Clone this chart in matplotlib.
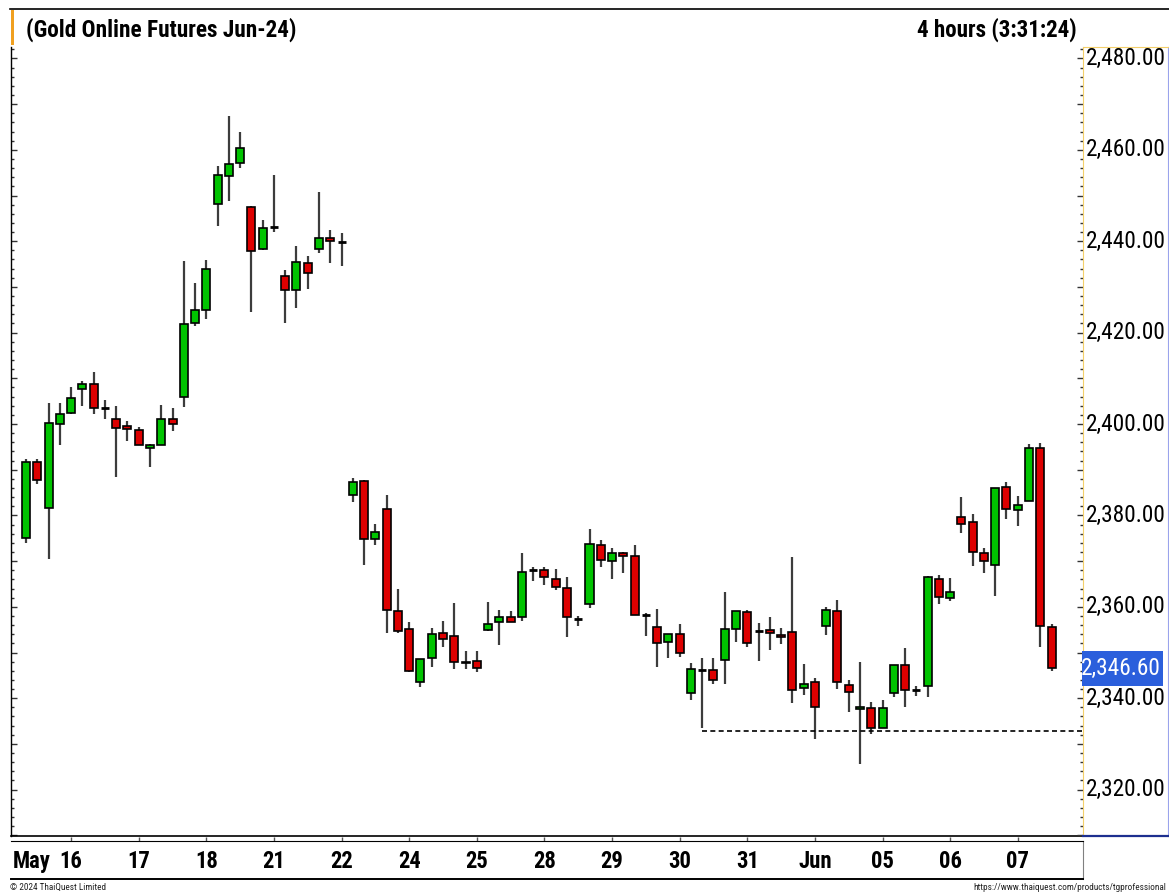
import matplotlib
matplotlib.use('Agg')
import matplotlib.pyplot as plt
import matplotlib.transforms as mtrans
from matplotlib import font_manager as fm
from matplotlib.font_manager import FontProperties
from matplotlib.patches import Rectangle
from matplotlib.lines import Line2D
from matplotlib.ticker import MultipleLocator

# ---------------- data ----------------
opens = [2375.0, 2391.6, 2381.6, 2399.9, 2402.3, 2407.7, 2408.7, 2403.5, 2401.2, 2399.5,
         2398.7, 2394.7, 2395.5, 2401.0, 2405.8, 2422.2, 2424.9, 2448.1, 2454.3, 2457.2,
         2447.5, 2438.4, 2443.0, 2432.4, 2429.3, 2435.2, 2438.2, 2440.6, 2439.9, 2384.5,
         2387.5, 2374.8, 2381.3, 2359.1, 2355.2, 2343.5, 2348.7, 2354.2, 2353.6, 2347.6,
         2348.1, 2355.0, 2356.6, 2357.7, 2357.7, 2368.1, 2368.1, 2366.1, 2364.2, 2357.3,
         2360.7, 2373.5, 2370.0, 2371.8, 2371.1, 2358.3, 2355.5, 2352.2, 2354.0, 2341.1,
         2346.2, 2346.1, 2348.3, 2355.2, 2358.8, 2354.8, 2354.9, 2353.9, 2354.4, 2342.2,
         2343.5, 2355.9, 2359.0, 2342.8, 2337.7, 2337.8, 2333.5, 2341.1, 2347.3, 2341.9,
         2342.7, 2366.1, 2362.0, 2379.6, 2378.6, 2371.8, 2369.1, 2386.3, 2381.1, 2383.2,
         2394.7, 2355.5]
highs = [2392.3, 2392.3, 2404.5, 2404.7, 2408.2, 2409.4, 2411.3, 2405.2, 2403.9, 2400.7,
         2399.4, 2395.6, 2404.1, 2403.4, 2435.7, 2430.9, 2435.9, 2456.4, 2467.5, 2463.8,
         2447.6, 2444.6, 2454.4, 2433.6, 2438.9, 2436.8, 2450.7, 2442.4, 2441.9, 2388.2,
         2387.7, 2378.1, 2384.5, 2364.0, 2356.7, 2348.5, 2355.3, 2357.0, 2360.8, 2350.3,
         2350.3, 2361.0, 2359.2, 2359.0, 2371.7, 2368.6, 2368.7, 2368.2, 2366.5, 2358.0,
         2377.1, 2374.7, 2372.8, 2372.0, 2373.6, 2358.6, 2359.5, 2354.0, 2356.2, 2347.8,
         2348.7, 2348.7, 2363.2, 2359.0, 2359.4, 2356.4, 2357.7, 2355.3, 2370.8, 2347.5,
         2344.4, 2359.9, 2361.4, 2344.0, 2347.9, 2339.1, 2339.6, 2347.3, 2350.9, 2342.7,
         2366.8, 2367.0, 2366.2, 2384.0, 2380.4, 2372.9, 2386.1, 2387.2, 2384.2, 2395.6,
         2395.8, 2356.2]
lows = [2373.9, 2386.8, 2370.4, 2395.4, 2402.1, 2403.9, 2402.2, 2401.1, 2388.5, 2396.3,
        2395.3, 2390.7, 2395.3, 2398.5, 2403.8, 2421.4, 2422.9, 2443.4, 2448.9, 2456.0,
        2424.4, 2438.1, 2442.1, 2422.0, 2425.3, 2429.5, 2437.5, 2435.3, 2434.6, 2383.0,
        2369.1, 2373.5, 2354.3, 2354.2, 2345.7, 2342.4, 2346.8, 2351.1, 2346.3, 2346.3,
        2345.8, 2354.8, 2351.7, 2356.6, 2357.0, 2365.7, 2364.8, 2363.7, 2353.5, 2355.9,
        2359.8, 2368.7, 2366.1, 2367.4, 2358.1, 2353.7, 2346.9, 2348.9, 2349.0, 2339.6,
        2333.5, 2343.2, 2343.2, 2352.2, 2351.1, 2348.2, 2350.5, 2351.9, 2338.9, 2340.8,
        2331.1, 2353.9, 2342.1, 2337.0, 2325.5, 2332.2, 2333.5, 2340.3, 2338.0, 2340.5,
        2340.3, 2360.6, 2361.3, 2376.1, 2368.9, 2367.5, 2362.4, 2379.3, 2377.7, 2383.2,
        2351.3, 2346.0]
closes = [2391.6, 2387.7, 2400.2, 2402.1, 2405.6, 2408.7, 2403.6, 2403.5, 2399.2, 2398.8,
          2395.3, 2395.3, 2401.0, 2399.9, 2421.9, 2424.9, 2433.9, 2454.4, 2457.0, 2460.5,
          2437.9, 2442.8, 2443.0, 2429.3, 2435.4, 2433.0, 2440.6, 2440.0, 2439.9, 2387.2,
          2374.8, 2376.4, 2359.2, 2354.6, 2346.0, 2348.5, 2354.0, 2352.9, 2348.0, 2348.0,
          2346.5, 2356.3, 2357.7, 2356.7, 2367.7, 2368.1, 2366.6, 2364.4, 2357.7, 2357.3,
          2373.7, 2370.2, 2371.8, 2371.2, 2358.1, 2358.3, 2352.0, 2354.0, 2349.8, 2346.3,
          2346.2, 2344.0, 2355.1, 2359.0, 2352.0, 2354.8, 2354.2, 2353.3, 2341.9, 2343.0,
          2338.0, 2359.4, 2343.5, 2341.4, 2338.1, 2333.4, 2337.9, 2347.3, 2341.9, 2341.9,
          2366.6, 2362.2, 2363.3, 2378.1, 2372.0, 2370.0, 2386.1, 2381.3, 2382.2, 2394.7,
          2355.9, 2346.6]

date_labels = ['16', '17', '18', '21', '22', '24', '25', '28', '29', '30', '31', 'Jun', '05', '06', '07']
date_label_idx = [4, 10, 16, 22, 28, 34, 40, 46, 52, 58, 64, 70, 76, 82, 88]
month_label = 'May'
y_ticks = [2320, 2340, 2360, 2380, 2400, 2420, 2440, 2460, 2480]
last_price = 2346.60
support_level = 2332.9
support_start_idx = 60
title_text = '(Gold Online Futures Jun-24)'
interval_text = '4 hours (3:31:24)'
footer_left = '\u00a9 2024 ThaiQuest Limited'
footer_right = 'https://www.thaiquest.com/products/tgprofessional'

# ---------------- fonts ----------------
# Prefer a narrow sans face (the original uses a narrow Arial); otherwise Liberation Sans.
preferred = ['Liberation Sans Narrow', 'Arial Narrow', 'Roboto Condensed',
             'Open Sans Condensed', 'Noto Sans Condensed', 'Noto Sans Display Condensed']
entries = fm.fontManager.ttflist
narrow_name = None
for nm in preferred:
    if any(f.name == nm for f in entries):
        narrow_name = nm
        break


def face(bold):
    if narrow_name is not None:
        return FontProperties(family=[narrow_name, 'DejaVu Sans'],
                              weight='bold' if bold else 'normal')
    return FontProperties(family=['Liberation Sans', 'DejaVu Sans'],
                          weight='bold' if bold else 'normal')


# ---------------- layout ----------------
W, H = 1169, 892
fig = plt.figure(figsize=(W / 100, H / 100), dpi=100)
fig.patch.set_facecolor('white')
renderer = fig.canvas.get_renderer()


def fit_size(text, bold, target_px, max_pt):
    fp = face(bold)
    fp.set_size(20)
    t = fig.text(0, 0, text, fontproperties=fp)
    w = t.get_window_extent(renderer=renderer).width
    t.remove()
    return min(max_pt, 20 * target_px / w)


def fx(px):
    return px / W


def fy(py):
    return 1 - py / H


PX_PER_UNIT = 4.57
Y_REF_PX, Y_REF_VAL = 424.0, 2400.0


def val_at(py):
    return Y_REF_VAL - (py - Y_REF_PX) / PX_PER_UNIT


X0_PX, STEP_PX = 26.0, 11.27


def idx_at(px):
    return (px - X0_PX) / STEP_PX


top_px, bot_px = 47, 836
left_px, right_px = 11, 1083
ylim = (val_at(bot_px), val_at(top_px))
xlim = (idx_at(left_px), idx_at(right_px))

# font sizes matched to the widths of the reference text
sz_title = fit_size(title_text, True, 270, 17.5)
sz_interval = fit_size(interval_text, True, 160, 17.5)
sz_ylab = fit_size('2,480.00', False, 80, 18)
sz_xlab = fit_size('May', True, 38, 17)
sz_foot = fit_size(footer_left, False, 96, 7.5)

ax = fig.add_axes([fx(left_px), fy(bot_px), fx(right_px) - fx(left_px), (bot_px - top_px) / H])
ax.set_xlim(*xlim)
ax.set_ylim(*ylim)
for s in ['top', 'right']:
    ax.spines[s].set_visible(False)
ax.spines['left'].set_color('black')
ax.spines['bottom'].set_color('black')
ax.spines['left'].set_linewidth(1.0)
ax.spines['bottom'].set_linewidth(1.2)
ax.set_xticks([])
ax.yaxis.set_major_locator(MultipleLocator(10))
ax.yaxis.set_minor_locator(MultipleLocator(2))
ax.tick_params(axis='y', which='major', direction='in', length=4, width=1, color='#333333', labelleft=False)
ax.tick_params(axis='y', which='minor', direction='in', length=2.2, width=1, color='#333333')

# ---------------- candles ----------------
green = '#00c400'
red = '#dd0000'
bw = 0.71
n = len(opens)
for i in range(n):
    o, h, l, c = opens[i], highs[i], lows[i], closes[i]
    ax.vlines(i, l, h, color='#3c3c3c', lw=1.6, zorder=2)
    if abs(c - o) < 0.05:
        ax.hlines(o, i - bw / 2, i + bw / 2, color='black', lw=2.0, zorder=3)
    else:
        col = green if c > o else red
        ax.bar(i, abs(c - o), bottom=min(o, c), width=bw, color=col,
               edgecolor='black', linewidth=1.2, zorder=3)

ax.hlines(support_level, support_start_idx, xlim[1], colors='black', lw=1.2,
          linestyles=(0, (3, 2)), zorder=4)

# ---------------- price axis panel ----------------
pax = fig.add_axes([fx(right_px), fy(bot_px), fx(1168) - fx(right_px), (bot_px - top_px) / H])
pax.set_ylim(*ylim)
pax.set_xlim(0, 1)
pax.set_xticks([])
pax.spines['left'].set_color('#f3cf6a')
pax.spines['top'].set_color('#f3cf6a')
pax.spines['right'].set_color('#9aa3ec')
pax.spines['bottom'].set_color('#1d2f8f')
pax.spines['bottom'].set_linewidth(1.6)
pax.yaxis.set_major_locator(MultipleLocator(10))
pax.yaxis.set_minor_locator(MultipleLocator(2))
pax.tick_params(axis='y', which='major', direction='out', length=4, width=1, color='#333333', labelleft=False)
pax.tick_params(axis='y', which='minor', direction='out', length=2.2, width=1, color='#333333')
btr = mtrans.blended_transform_factory(pax.transAxes, pax.transData)
fp_y = face(False)
fp_y.set_size(sz_ylab)
for v in y_ticks:
    pax.text(0.976, v, f'{v:,.2f}', transform=btr, ha='right', va='center',
             fontproperties=fp_y, color='black')

box_h = 35 / PX_PER_UNIT
pax.add_patch(Rectangle((-0.012, last_price - box_h / 2), 0.953, box_h, transform=btr,
                        facecolor='#2b5fdc', edgecolor='none', clip_on=False, zorder=5))
pax.text(0.918, last_price, f'{last_price:,.2f}', transform=btr, ha='right', va='center',
         fontproperties=fp_y, color='white', zorder=6)

# ---------------- date band ----------------
bax = fig.add_axes([fx(left_px), fy(879), fx(right_px) - fx(left_px), (879 - 841) / H])
bax.set_xlim(*xlim)
bax.set_ylim(0, 1)
bax.set_yticks([])
bax.spines['left'].set_visible(False)
bax.spines['right'].set_color('#808080')
bax.spines['top'].set_color('black')
bax.spines['bottom'].set_color('black')
bax.spines['bottom'].set_linewidth(1.4)
bax.xaxis.set_ticks_position('top')
bax.set_xticks(date_label_idx)
bax.tick_params(axis='x', direction='out', length=3, width=1, color='#555555', labeltop=False, labelbottom=False)
fp_x = face(True)
fp_x.set_size(sz_xlab)
for lab, i in zip(date_labels, date_label_idx):
    bax.text(i, 0.47, lab, ha='center', va='center', fontproperties=fp_x, color='black')
bax.text(0.002, 0.47, month_label, transform=bax.transAxes, ha='left', va='center',
         fontproperties=fp_x, color='black')

# ---------------- title strip ----------------
fig.add_artist(Line2D([fx(10), 1.0], [fy(9), fy(9)], transform=fig.transFigure, color='black', lw=1.2))
fig.add_artist(Rectangle((fx(11), fy(45)), 3 / W, 35 / H, transform=fig.transFigure,
                         facecolor='#f0a020', edgecolor='none'))
fp_t = face(True)
fp_t.set_size(sz_title)
fig.text(fx(26), fy(30), title_text, ha='left', va='center', fontproperties=fp_t)
fp_i = face(True)
fp_i.set_size(sz_interval)
fig.text(fx(1077), fy(30), interval_text, ha='right', va='center', fontproperties=fp_i)

# ---------------- footer ----------------
fp_f = face(False)
fp_f.set_size(sz_foot)
fig.text(fx(10), fy(887), footer_left, ha='left', va='center', fontproperties=fp_f, color='#222222')
fig.text(fx(1166), fy(887), footer_right, ha='right', va='center', fontproperties=fp_f, color='#222222')

fig.savefig('out.png', dpi=100, facecolor='white')
